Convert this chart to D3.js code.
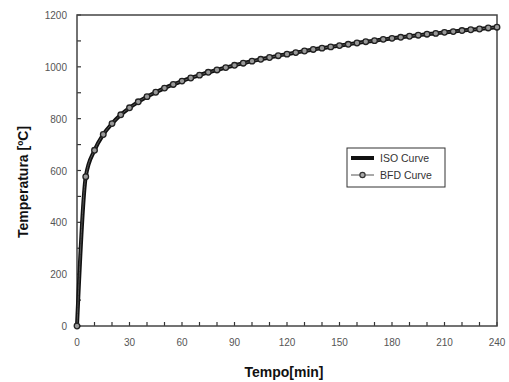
<!DOCTYPE html>
<html>
<head>
<meta charset="utf-8">
<script src="https://cdn.jsdelivr.net/npm/d3@7"></script>
<style>
    body { margin: 0; background: #fff; }
    svg { font-family: "Liberation Sans", Arial, sans-serif; }
    .tick-label { fill: #555; font-size: 10px; }
    .axis-title { fill: #111; font-size: 14px; font-weight: bold; }
    .legend-text { fill: #333; font-size: 10.5px; }
</style>
</head>
<body>
<div id="chart"></div>
<script>

// time in minutes (marker every 5 min)
let minutes = [0, 5, 10, 15, 20, 25, 30, 35, 40, 45, 50, 55, 60, 65, 70, 75, 80, 85, 90, 95,
    100, 105, 110, 115, 120, 125, 130, 135, 140, 145, 150, 155, 160, 165, 170, 175, 180, 185, 190, 195,
    200, 205, 210, 215, 220, 225, 230, 235, 240];

// ISO curve temperatures
let isoTemp = [0, 576, 678, 739, 781, 815, 842, 865, 885, 902, 918, 932, 945, 957, 968, 979, 988, 997, 1006, 1014,
    1022, 1029, 1036, 1043, 1049, 1055, 1061, 1067, 1072, 1077, 1082, 1087, 1092, 1097, 1101, 1106, 1110, 1114, 1118, 1122,
    1126, 1129, 1133, 1136, 1140, 1143, 1146, 1150, 1153];

// BFD curve temperatures (markers sit on the ISO line)
let bfdTemp = [0, 576, 678, 739, 781, 815, 842, 865, 885, 902, 918, 932, 945, 957, 968, 979, 988, 997, 1006, 1014,
    1022, 1029, 1036, 1043, 1049, 1055, 1061, 1067, 1072, 1077, 1082, 1087, 1092, 1097, 1101, 1106, 1110, 1114, 1118, 1122,
    1126, 1129, 1133, 1136, 1140, 1143, 1146, 1150, 1153];

let xTickLabels = [0, 30, 60, 90, 120, 150, 180, 210, 240];
let yTickLabels = [0, 200, 400, 600, 800, 1000, 1200];
let seriesNames = ["ISO Curve", "BFD Curve"];

let margin = { top: 15, right: 12, bottom: 56, left: 77 };
let totalW = 509, totalH = 382;
let width = totalW - margin.left - margin.right;
let height = totalH - margin.top - margin.bottom;

let svg = d3.select("#chart").append("svg")
    .attr("width", totalW)
    .attr("height", totalH);

let g = svg.append("g")
    .attr("transform", "translate(" + margin.left + "," + margin.top + ")");

let x = d3.scaleLinear().domain([0, 240]).range([0, width]);
let y = d3.scaleLinear().domain([0, 1200]).range([height, 0]);

// inward ticks, every 10 min / 100 degrees
let xTicks = d3.range(0, 241, 10);
let yTicks = d3.range(0, 1201, 100);

g.selectAll(".xtick").data(xTicks).enter().append("line")
    .attr("x1", d => x(d)).attr("x2", d => x(d))
    .attr("y1", height).attr("y2", height - 4)
    .attr("stroke", "#333").attr("stroke-width", 1.2);

g.selectAll(".ytick").data(yTicks).enter().append("line")
    .attr("x1", 0).attr("x2", 4)
    .attr("y1", d => y(d)).attr("y2", d => y(d))
    .attr("stroke", "#333").attr("stroke-width", 1.2);

g.selectAll(".xlab").data(xTickLabels).enter().append("text")
    .attr("class", "tick-label")
    .attr("x", d => x(d))
    .attr("y", height + 20)
    .attr("text-anchor", "middle")
    .text(d => d);

g.selectAll(".ylab").data(yTickLabels).enter().append("text")
    .attr("class", "tick-label")
    .attr("x", -10)
    .attr("y", d => y(d) + 4)
    .attr("text-anchor", "end")
    .text(d => d);

// frame
g.append("rect")
    .attr("x", 0).attr("y", 0)
    .attr("width", width).attr("height", height)
    .attr("fill", "none")
    .attr("stroke", "#444")
    .attr("stroke-width", 1.5);

let isoData = minutes.map((t, i) => [t, isoTemp[i]]);
let bfdData = minutes.map((t, i) => [t, bfdTemp[i]]);

let line = d3.line()
    .x(d => x(d[0]))
    .y(d => y(d[1]))
    .curve(d3.curveMonotoneX);

g.append("path")
    .datum(isoData)
    .attr("fill", "none")
    .attr("stroke", "#111")
    .attr("stroke-width", 4)
    .attr("d", line);

g.append("path")
    .datum(bfdData)
    .attr("fill", "none")
    .attr("stroke", "#555")
    .attr("stroke-width", 1)
    .attr("d", line);

g.selectAll(".bfd-marker").data(bfdData).enter().append("circle")
    .attr("cx", d => x(d[0]))
    .attr("cy", d => y(d[1]))
    .attr("r", 2.8)
    .attr("fill", "#999")
    .attr("stroke", "#222")
    .attr("stroke-width", 1.3);

// legend
let legend = svg.append("g").attr("transform", "translate(347,148)");
legend.append("rect")
    .attr("width", 98).attr("height", 39)
    .attr("fill", "#fff")
    .attr("stroke", "#333")
    .attr("stroke-width", 1);

legend.append("line")
    .attr("x1", 4).attr("x2", 27).attr("y1", 10).attr("y2", 10)
    .attr("stroke", "#111").attr("stroke-width", 4);
legend.append("line")
    .attr("x1", 4).attr("x2", 27).attr("y1", 27).attr("y2", 27)
    .attr("stroke", "#555").attr("stroke-width", 1);
legend.append("circle")
    .attr("cx", 15.5).attr("cy", 27).attr("r", 2.6)
    .attr("fill", "#aaa").attr("stroke", "#333").attr("stroke-width", 1.2);

legend.selectAll(".legend-text").data(seriesNames).enter().append("text")
    .attr("class", "legend-text")
    .attr("x", 33)
    .attr("y", (d, i) => 14 + i * 17)
    .text(d => d);

// axis titles
svg.append("text")
    .attr("class", "axis-title")
    .attr("x", 284)
    .attr("y", 377)
    .attr("text-anchor", "middle")
    .text("Tempo[min]");

svg.append("text")
    .attr("class", "axis-title")
    .attr("transform", "translate(28,182) rotate(-90)")
    .attr("text-anchor", "middle")
    .text("Temperatura [ºC]");

</script>
</body>
</html>
